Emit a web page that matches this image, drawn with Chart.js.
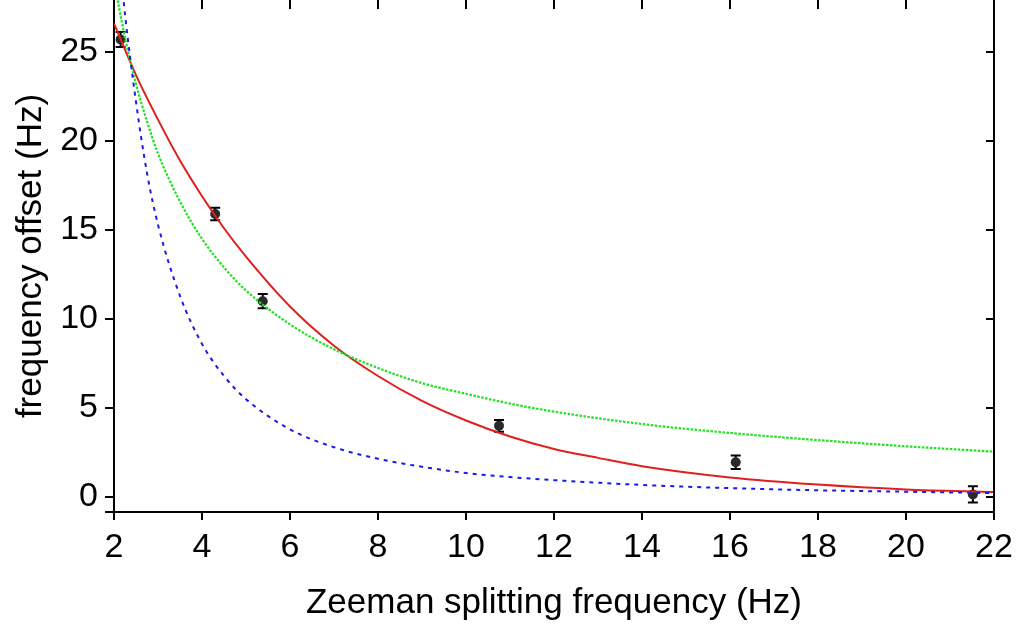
<!DOCTYPE html>
<html>
<head>
<meta charset="utf-8">
<script src="https://cdn.jsdelivr.net/npm/chart.js@4.4.0/dist/chart.umd.min.js"></script>
<style>
html,body{margin:0;padding:0;background:#fff;}
#wrap{width:1019px;height:624px;position:relative;}
</style>
</head>
<body>
<div id="wrap"><canvas id="c" width="1019" height="624"></canvas></div>
<script>
// Measured data
const dataX = [2.15, 4.30, 5.38, 10.75, 16.13, 21.52];
const dataY = [25.7, 15.9, 11.0, 4.0, 1.95, 0.15];
const dataErr = [0.42, 0.35, 0.40, 0.33, 0.38, 0.45];

// Red solid fit curve
const redX = [2, 2.5, 3, 3.5, 4, 4.5, 5, 6, 7, 8, 9, 10, 11, 12, 13, 14, 16, 18, 20, 22];
const redY = [26.6, 23.7, 21.2, 18.9, 16.9, 15.1, 13.5, 10.7, 8.5, 6.8, 5.4, 4.3, 3.4, 2.7, 2.2, 1.73, 1.1, 0.7, 0.43, 0.28];

// Green dotted curve
const greenX = [2, 2.25, 2.5, 2.75, 3, 3.5, 4, 4.5, 5, 6, 7, 8, 9, 10, 11, 12, 14, 16, 18, 20, 22];
const greenY = [29.0, 25.8, 23.2, 21.1, 19.3, 16.6, 14.5, 12.9, 11.6, 9.7, 8.3, 7.25, 6.4, 5.8, 5.25, 4.8, 4.1, 3.6, 3.2, 2.85, 2.55];

// Blue dashed curve
const blueX = [2.2, 2.25, 2.5, 2.75, 3, 3.5, 4, 4.5, 5, 6, 7, 8, 9, 10, 11, 12, 14, 16, 18, 20, 22];
const blueY = [28.3, 27.1, 22.2, 18.2, 15.3, 11.3, 8.6, 6.8, 5.5, 3.8, 2.8, 2.15, 1.7, 1.35, 1.12, 0.95, 0.68, 0.5, 0.38, 0.3, 0.22];

const yTicks = [0, 5, 10, 15, 20, 25];
const xTicks = [2, 4, 6, 8, 10, 12, 14, 16, 18, 20, 22];

const pts = (xs, ys) => xs.map((x, i) => ({x: x, y: ys[i]}));

const FONT = "'Liberation Sans', Arial, Helvetica, sans-serif";

const framePlugin = {
  id: 'frame',
  beforeDatasetsDraw(chart) {
    const {ctx, scales: {x, y}} = chart;
    ctx.save();
    ctx.strokeStyle = '#000';
    ctx.lineWidth = 2;
    dataX.forEach((xv, i) => {
      const px = x.getPixelForValue(xv);
      const y1 = y.getPixelForValue(dataY[i] + dataErr[i]);
      const y2 = y.getPixelForValue(dataY[i] - dataErr[i]);
      ctx.beginPath();
      ctx.moveTo(px, y1); ctx.lineTo(px, y2);
      ctx.moveTo(px - 5, y1); ctx.lineTo(px + 5, y1);
      ctx.moveTo(px - 5, y2); ctx.lineTo(px + 5, y2);
      ctx.stroke();
    });
    ctx.restore();
  },
  afterDraw(chart) {
    const {ctx, chartArea: a, scales: {x, y}} = chart;
    ctx.save();
    ctx.strokeStyle = '#000';
    ctx.lineWidth = 2;
    ctx.beginPath();
    ctx.moveTo(a.right, a.top); ctx.lineTo(a.right, a.bottom + 8);
    ctx.moveTo(a.left - 9, a.bottom); ctx.lineTo(a.left, a.bottom);
    xTicks.forEach(v => {
      const px = x.getPixelForValue(v);
      ctx.moveTo(px, a.top); ctx.lineTo(px, a.top + 9);
    });
    yTicks.forEach(v => {
      const py = y.getPixelForValue(v);
      ctx.moveTo(a.right, py); ctx.lineTo(a.right - 8, py);
    });
    ctx.stroke();
    ctx.restore();
  }
};

new Chart(document.getElementById('c'), {
  type: 'scatter',
  data: {
    datasets: [
      {label: 'blue', data: pts(blueX, blueY), showLine: true, pointRadius: 0, borderColor: '#1a1aee', borderWidth: 2, borderDash: [4, 5], cubicInterpolationMode: 'monotone', clip: 0},
      {label: 'green', data: pts(greenX, greenY), showLine: true, pointRadius: 0, borderColor: '#22e022', borderWidth: 2.2, borderDash: [2.5, 1.5], cubicInterpolationMode: 'monotone', clip: 0},
      {label: 'red', data: pts(redX, redY), showLine: true, pointRadius: 0, borderColor: '#e0201e', borderWidth: 2, cubicInterpolationMode: 'monotone', clip: 0},
      {label: 'data', data: pts(dataX, dataY), showLine: false, pointRadius: 5, pointBackgroundColor: '#2a2a2a', pointBorderColor: '#2a2a2a', pointBorderWidth: 0, clip: false}
    ]
  },
  options: {
    responsive: false,
    animation: false,
    events: [],
    layout: {autoPadding: false, padding: {top: 0, right: 25, left: 0, bottom: 0}},
    plugins: {legend: {display: false}, tooltip: {enabled: false}},
    scales: {
      x: {
        type: 'linear', min: 2, max: 22,
        afterBuildTicks(s) { s.ticks = xTicks.map(v => ({value: v})); },
        afterFit(s) { s.height = 112; s.paddingLeft = 0; s.paddingRight = 0; },
        grid: {display: true, drawOnChartArea: false, drawTicks: true, tickLength: 8, color: '#000', lineWidth: 2, tickWidth: 2},
        border: {display: true, color: '#000', width: 2},
        ticks: {color: '#000', font: {family: FONT, size: 34}, padding: 7, maxRotation: 0, callback: v => String(v)},
        title: {display: true, text: 'Zeeman splitting frequency (Hz)', color: '#000', font: {family: FONT, size: 35}, padding: {top: 8, bottom: 0}}
      },
      y: {
        type: 'linear', min: -0.84, max: 27.92,
        afterBuildTicks(s) { s.ticks = yTicks.map(v => ({value: v})); },
        afterFit(s) { s.width = 114; s.paddingTop = 0; s.paddingBottom = 0; },
        grid: {display: true, drawOnChartArea: false, drawTicks: true, tickLength: 9, color: '#000', lineWidth: 2, tickWidth: 2},
        border: {display: true, color: '#000', width: 2},
        ticks: {color: '#000', font: {family: FONT, size: 34}, padding: 7, callback: v => String(v)},
        title: {display: true, text: 'frequency offset (Hz)', color: '#000', font: {family: FONT, size: 35}, padding: {top: 10, bottom: 0}}
      }
    }
  },
  plugins: [framePlugin]
});
</script>
</body>
</html>
